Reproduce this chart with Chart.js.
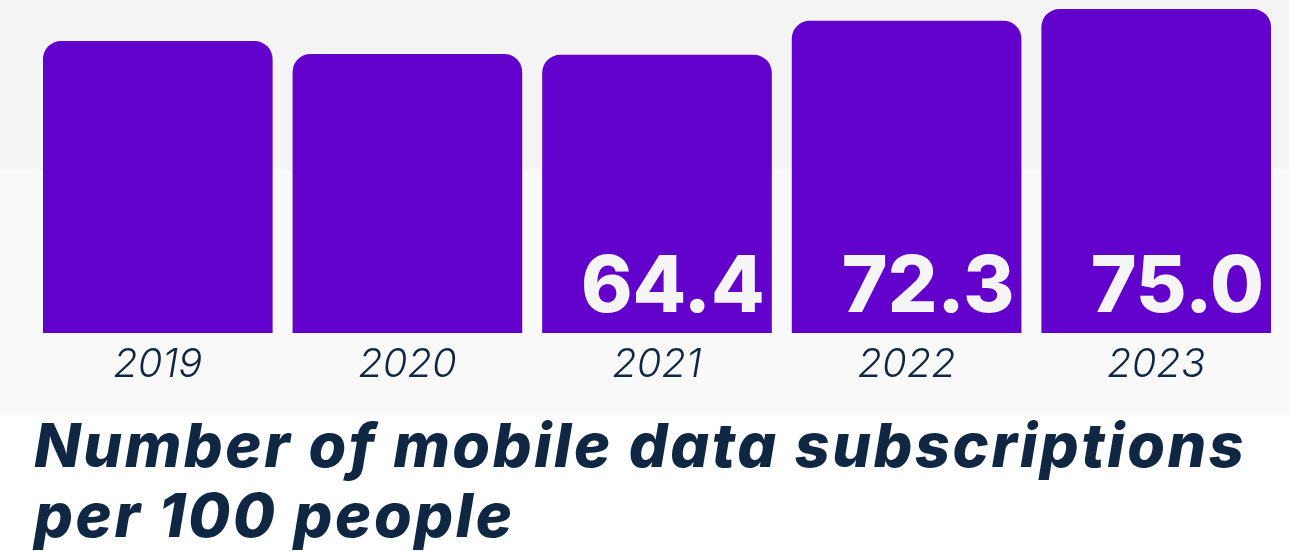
<!DOCTYPE html>
<html>
<head>
<meta charset="utf-8">
<script src="https://cdn.jsdelivr.net/npm/chart.js@4/dist/chart.umd.min.js"></script>
<style>
  html, body { margin: 0; padding: 0; }
  body { width: 1289px; height: 551px; background: #ffffff; position: relative; overflow: hidden; font-family: 'Inter', 'Noto Sans', sans-serif; }
  .band-top { position: absolute; left: 0; top: 0; width: 1289px; height: 169px; background: #f4f4f4; }
  .band-mid { position: absolute; left: 0; top: 169px; width: 1289px; height: 245px; background: #f9f9f9; }
  .chart-box { position: absolute; left: 0; top: 0; width: 1289px; height: 415px; }
  .title { position: absolute; left: 34px; top: 410px; color: #0f2742; font-size: 61px; font-weight: 800; font-style: italic; line-height: 70px; letter-spacing: 2.6px; }
</style>
</head>
<body>
<div class="band-top"></div>
<div class="band-mid"></div>
<div class="chart-box"><canvas id="chart"></canvas></div>
<div class="title">Number of mobile data subscriptions<br>per 100 people</div>
<script>
// Data
const years = ['2019', '2020', '2021', '2022', '2023'];
const subscriptions = [67.6, 64.6, 64.4, 72.3, 75.0];
const valueLabels = ['', '', '64.4', '72.3', '75.0'];

// Draw the value text inside the bottom-right of each bar
const barValuePlugin = {
    id: 'barValues',
    afterDatasetsDraw(chart) {
        const ctx = chart.ctx;
        const meta = chart.getDatasetMeta(0);
        ctx.save();
        ctx.fillStyle = '#f5f5f5';
        ctx.font = '800 78px Inter, "Noto Sans", sans-serif';
        ctx.textAlign = 'right';
        ctx.textBaseline = 'alphabetic';
        meta.data.forEach((bar, i) => {
            if (!valueLabels[i]) return;
            const right = bar.x + bar.width / 2 - 7;
            ctx.fillText(valueLabels[i], right, bar.base - 21);
        });
        ctx.restore();
    }
};

const ctx = document.getElementById('chart').getContext('2d');
new Chart(ctx, {
    type: 'bar',
    data: {
        labels: years,
        datasets: [{
            data: subscriptions,
            backgroundColor: '#6200cc',
            borderWidth: 0,
            borderSkipped: 'bottom',
            borderRadius: { topLeft: 18, topRight: 18, bottomLeft: 0, bottomRight: 0 },
            barPercentage: 1,
            categoryPercentage: 0.92
        }]
    },
    options: {
        responsive: true,
        maintainAspectRatio: false,
        animation: false,
        layout: { padding: { left: 33, right: 8, top: 0, bottom: 18 } },
        plugins: {
            legend: { display: false },
            tooltip: { enabled: false }
        },
        scales: {
            x: {
                grid: { display: false, drawTicks: false },
                border: { display: false },
                ticks: {
                    color: '#0f2742',
                    padding: 8,
                    font: { family: 'Inter, "Noto Sans", sans-serif', size: 40, style: 'italic', weight: 300 }
                }
            },
            y: {
                display: false,
                min: 0,
                max: 77.1
            }
        }
    },
    plugins: [barValuePlugin]
});
</script>
</body>
</html>
